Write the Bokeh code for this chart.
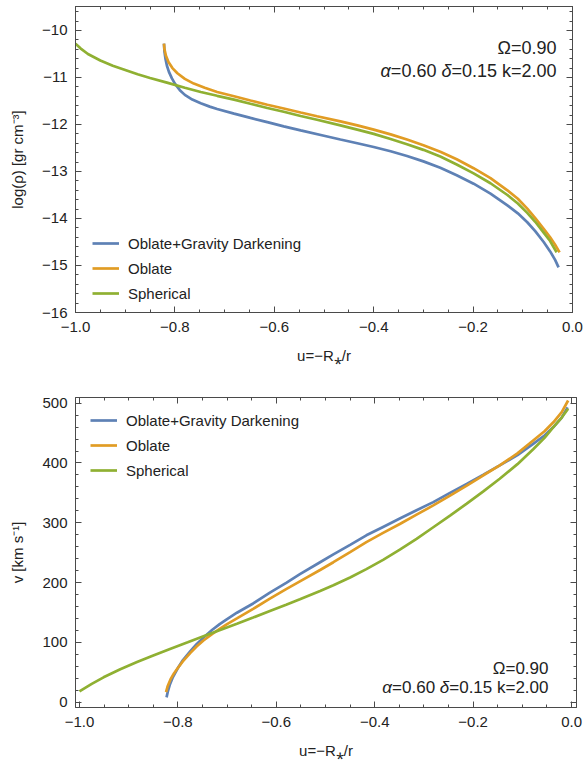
from bokeh.plotting import figure
from bokeh.layouts import column
from bokeh.models import (Range1d, SingleIntervalTicker, LinearAxis, CustomJSTickFormatter,
                          Label, CustomLabelingPolicy)
from bokeh.embed import file_html
from bokeh.resources import INLINE

FONT = "Liberation Sans"
BLUE, ORANGE, GREEN = "#5E81B5", "#E19C24", "#8FB032"
series_names = ["Oblate+Gravity Darkening", "Oblate", "Spherical"]

# ---------------- density panel: log(rho) vs u ----------------
rho_ogd_u = [-0.822, -0.821, -0.819, -0.816, -0.812, -0.806, -0.8, -0.79, -0.78, -0.765,
             -0.748, -0.73, -0.715, -0.681, -0.648, -0.614, -0.581, -0.547, -0.5, -0.467,
             -0.433, -0.4, -0.366, -0.333, -0.3, -0.266, -0.233, -0.199, -0.165, -0.131,
             -0.11, -0.091, -0.075, -0.058, -0.045, -0.035, -0.028]
rho_ogd = [-10.28, -10.45, -10.6, -10.75, -10.88, -11.02, -11.13, -11.27, -11.37, -11.47,
           -11.55, -11.62, -11.67, -11.77, -11.86, -11.95, -12.04, -12.125, -12.24, -12.32,
           -12.40, -12.48, -12.57, -12.67, -12.785, -12.92, -13.08, -13.26, -13.47, -13.72,
           -13.89, -14.08, -14.27, -14.50, -14.70, -14.88, -15.04]

rho_obl_u = [-0.822, -0.821, -0.818, -0.813, -0.805, -0.795, -0.78, -0.762, -0.74, -0.715,
             -0.681, -0.648, -0.614, -0.581, -0.547, -0.514, -0.467, -0.433, -0.4, -0.366,
             -0.333, -0.3, -0.266, -0.233, -0.199, -0.165, -0.131, -0.11, -0.091, -0.075,
             -0.058, -0.045, -0.035, -0.026]
rho_obl = [-10.28, -10.40, -10.54, -10.67, -10.80, -10.91, -11.03, -11.13, -11.22, -11.31,
           -11.40, -11.49, -11.58, -11.66, -11.745, -11.825, -11.935, -12.02, -12.11, -12.21,
           -12.32, -12.44, -12.58, -12.74, -12.93, -13.14, -13.40, -13.58, -13.79, -13.99,
           -14.22, -14.40, -14.56, -14.72]

rho_sph_u = [-1.0, -0.99, -0.975, -0.95, -0.925, -0.9, -0.875, -0.85, -0.816, -0.78,
             -0.748, -0.715, -0.681, -0.648, -0.614, -0.581, -0.547, -0.514, -0.467, -0.433,
             -0.4, -0.366, -0.333, -0.3, -0.266, -0.233, -0.199, -0.165, -0.131, -0.11,
             -0.091, -0.075, -0.058, -0.045, -0.032]
rho_sph = [-10.28, -10.38, -10.50, -10.64, -10.75, -10.84, -10.93, -11.01, -11.11, -11.22,
           -11.31, -11.39, -11.47, -11.56, -11.65, -11.73, -11.82, -11.90, -12.02, -12.11,
           -12.20, -12.31, -12.42, -12.54, -12.68, -12.85, -13.04, -13.25, -13.50, -13.68,
           -13.88, -14.07, -14.30, -14.48, -14.72]

# ---------------- velocity panel: v vs u ----------------
v_ogd_u = [-0.823, -0.82, -0.816, -0.81, -0.8, -0.79, -0.775, -0.762, -0.745, -0.73,
           -0.715, -0.7, -0.68, -0.647, -0.613, -0.579, -0.552, -0.511, -0.484, -0.45,
           -0.417, -0.383, -0.349, -0.315, -0.281, -0.247, -0.213, -0.18, -0.146, -0.11,
           -0.078, -0.055, -0.037, -0.02, -0.008]
v_ogd = [8, 19, 30, 42, 57, 70, 85, 97, 110, 121,
         130.5, 139, 149.5, 165, 183, 200, 214, 234, 247, 263,
         279, 293, 307, 321, 334.5, 350, 365, 380, 396, 413,
         432, 446, 460, 476, 493]

v_obl_u = [-0.824, -0.821, -0.815, -0.808, -0.802, -0.79, -0.775, -0.762, -0.748, -0.73,
           -0.715, -0.7, -0.68, -0.647, -0.613, -0.58, -0.552, -0.511, -0.484, -0.45,
           -0.417, -0.383, -0.349, -0.315, -0.281, -0.247, -0.213, -0.18, -0.146, -0.11,
           -0.078, -0.055, -0.037, -0.02, -0.007]
v_obl = [16.7, 26, 38, 48, 55, 68, 82, 93, 103, 114,
         122.5, 130.5, 140, 156, 173, 189, 202, 221, 234, 251,
         267.6, 283, 298, 313.5, 329, 345.5, 362, 379, 396, 416,
         437.6, 453, 468, 485, 504.5]

v_sph_u = [-1.0, -0.99, -0.975, -0.951, -0.917, -0.883, -0.85, -0.816, -0.78, -0.748,
           -0.714, -0.68, -0.647, -0.613, -0.58, -0.552, -0.511, -0.484, -0.45, -0.417,
           -0.383, -0.349, -0.315, -0.281, -0.247, -0.213, -0.18, -0.146, -0.11, -0.078,
           -0.055, -0.037, -0.02, -0.007]
v_sph = [17.9, 23, 30.5, 41.5, 55, 67, 78, 89, 100, 110,
         120.5, 131, 141.5, 152.5, 163, 172, 186, 195.5, 208.5, 222.5,
         238, 255, 273, 292.5, 312, 332, 352, 373.6, 398, 423,
         442, 460, 476, 490.6]

param_line1 = "\u03a9=0.90"
param_segments = [("\u03b1", "italic"), ("=0.60", "normal"), (" ", "normal"),
                  ("\u03b4", "italic"), ("=0.15 k=2.00", "normal")]
# approximate advance widths (em) of the segments in an Arial-metric font
param_seg_em = [0.578, 2.530, 0.278, 0.556, 5.838]

XFMT = CustomJSTickFormatter(code="""
const t = Math.abs(tick) < 1e-9 ? 0 : tick;
return t.toFixed(1).replace('-', '\\u2212');
""")
YFMT = CustomJSTickFormatter(code="""
const t = Math.abs(tick) < 1e-9 ? 0 : tick;
return t.toFixed(0).replace('-', '\\u2212');
""")

FRAME_COLOR = "#4a4a4a"
TEXT_COLOR = "#222222"


def make_panel(xr, yr, fw, fh, mb_top, mb_bottom, mb_right, y_interval, y_minor, ylabel):
    p = figure(frame_width=fw, frame_height=fh, x_range=xr, y_range=yr,
               output_backend="svg", toolbar_location=None,
               min_border_left=75, min_border_right=mb_right,
               min_border_top=mb_top, min_border_bottom=mb_bottom,
               x_axis_location=None, y_axis_location=None)
    p.background_fill_color = "white"
    p.border_fill_color = "white"
    p.outline_line_color = FRAME_COLOR
    p.outline_line_width = 1
    p.xgrid.visible = False
    p.ygrid.visible = False
    xt = SingleIntervalTicker(interval=0.2, num_minor_ticks=4)
    yt = SingleIntervalTicker(interval=y_interval, num_minor_ticks=y_minor)

    def style_axis(ax, show_labels):
        ax.axis_line_color = FRAME_COLOR
        ax.major_tick_line_color = FRAME_COLOR
        ax.minor_tick_line_color = FRAME_COLOR
        ax.major_tick_in = 6
        ax.major_tick_out = 0
        ax.minor_tick_in = 3
        ax.minor_tick_out = 0
        ax.major_label_text_font = FONT
        ax.major_label_text_color = TEXT_COLOR
        ax.axis_label_text_font = FONT
        ax.axis_label_text_font_style = "normal"
        ax.axis_label_text_color = TEXT_COLOR
        ax.axis_label_text_font_size = "15px"
        if show_labels:
            ax.major_label_text_font_size = "15px"
        else:
            ax.major_label_policy = CustomLabelingPolicy(code="return []")
            ax.major_label_text_font_size = "0px"
            ax.major_label_standoff = 0

    bottom = LinearAxis(ticker=xt, formatter=XFMT, axis_label="u=\u2212R\u204e/r")
    style_axis(bottom, True)
    bottom.major_label_standoff = 9
    bottom.axis_label_standoff = 12
    left = LinearAxis(ticker=yt, formatter=YFMT, axis_label=ylabel)
    style_axis(left, True)
    left.major_label_standoff = 8
    left.axis_label_standoff = 13
    top = LinearAxis(ticker=xt, formatter=XFMT)
    style_axis(top, False)
    right = LinearAxis(ticker=yt, formatter=YFMT)
    style_axis(right, False)
    p.add_layout(bottom, "below")
    p.add_layout(left, "left")
    p.add_layout(top, "above")
    p.add_layout(right, "right")
    return p


def add_params(p, x_right, y_base1, y_base2, size):
    p.add_layout(Label(x=x_right, y=y_base1, x_units="screen", y_units="screen",
                       text=param_line1, text_align="right", text_baseline="alphabetic",
                       text_font=FONT, text_font_size=f"{size}px", text_color=TEXT_COLOR))
    total = sum(param_seg_em) * size
    x = x_right - total
    for (txt, style), em in zip(param_segments, param_seg_em):
        if txt.strip():
            p.add_layout(Label(x=x, y=y_base2, x_units="screen", y_units="screen",
                               text=txt, text_align="left", text_baseline="alphabetic",
                               text_font=FONT, text_font_style=style,
                               text_font_size=f"{size}px", text_color=TEXT_COLOR))
        x += em * size


def style_legend(p, loc):
    lg = p.legend[0]
    lg.location = loc
    lg.background_fill_alpha = 0
    lg.border_line_alpha = 0
    lg.padding = 0
    lg.margin = 0
    lg.spacing = 5
    lg.glyph_width = 27
    lg.glyph_height = 20
    lg.label_standoff = 9
    lg.label_text_font = FONT
    lg.label_text_font_size = "15px"
    lg.label_text_color = TEXT_COLOR
    lg.label_height = 20


LW = 2.7

# ---- top panel ----
p1 = make_panel(Range1d(-1.0, 0.0), Range1d(-16.0, -9.49), 497, 306, 6, 73, 12, 1, 5,
                "log(\u03c1) [gr cm\u207b\u00b3]")
p1.line(rho_ogd_u, rho_ogd, color=BLUE, line_width=LW, legend_label=series_names[0])
p1.line(rho_obl_u, rho_obl, color=ORANGE, line_width=LW, legend_label=series_names[1])
p1.line(rho_sph_u, rho_sph, color=GREEN, line_width=LW, legend_label=series_names[2])
style_legend(p1, (17, 9))
add_params(p1, 481, 265, 242, 18)

# ---- bottom panel ----
p2 = make_panel(Range1d(-1.008, 0.01), Range1d(-9.0, 509.5), 501, 310, 12, 56, 8, 100, 5,
                "v [km s\u207b\u00b9]")
p2.line(v_ogd_u, v_ogd, color=BLUE, line_width=LW, legend_label=series_names[0])
p2.line(v_obl_u, v_obl, color=ORANGE, line_width=LW, legend_label=series_names[1])
p2.line(v_sph_u, v_sph, color=GREEN, line_width=LW, legend_label=series_names[2])
style_legend(p2, (15, 227))
add_params(p2, 473, 39, 20, 17)

layout = column(p1, p2, spacing=0)
open("out.html", "w").write(file_html(layout, INLINE))
